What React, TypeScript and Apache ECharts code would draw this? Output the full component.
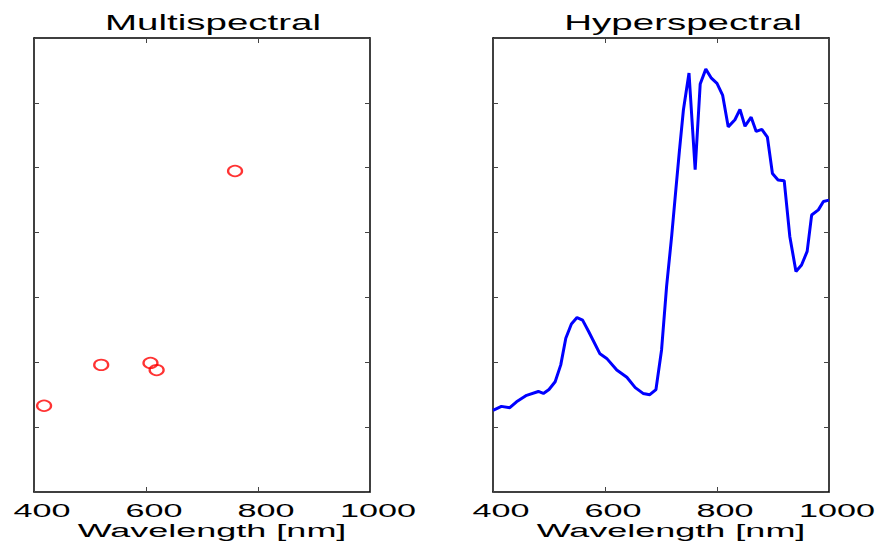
import React, { useEffect, useRef } from 'react';
import * as echarts from 'echarts';

const xTicks = [400, 600, 800, 1000];
const yMin = 0;
const yMax = 0.7;
const yStep = 0.1;
const titles = ['Multispectral', 'Hyperspectral'];
const xAxisName = 'Wavelength [nm]';

const multiWavelengths = [418, 520, 608, 619, 759];
const multiReflectance = [0.133, 0.196, 0.199, 0.188, 0.495];

const hyperWavelengths = [
  400, 415, 430, 442, 460, 481, 490, 500, 511, 521, 530, 540, 550, 560, 571, 591, 603, 621, 639, 654,
  668, 680, 691, 701, 710, 719, 727, 733, 740, 750, 761, 770, 780, 790, 800, 810, 820, 832, 841, 850,
  861, 870, 880, 890, 899, 909, 920, 930, 941, 951, 961, 969, 981, 990, 1000,
];
const hyperReflectance = [
  0.126, 0.132, 0.130, 0.139, 0.149, 0.155, 0.152, 0.158, 0.170, 0.196, 0.237, 0.259, 0.269, 0.265, 0.247, 0.213, 0.206, 0.188, 0.177, 0.161,
  0.152, 0.150, 0.158, 0.219, 0.317, 0.394, 0.471, 0.527, 0.589, 0.646, 0.497, 0.629, 0.652, 0.638, 0.630, 0.612, 0.563, 0.574, 0.590, 0.564,
  0.578, 0.556, 0.559, 0.547, 0.491, 0.481, 0.480, 0.394, 0.340, 0.350, 0.371, 0.427, 0.435, 0.448, 0.450,
];

const FONT = 'Liberation Sans, Arial, sans-serif';

export default function App() {
  const ref = useRef<HTMLDivElement>(null);

  useEffect(() => {
    const chart = echarts.init(ref.current!, null, { renderer: 'svg' });
    const grids = [
      { left: 34, top: 38, width: 336, height: 454 },
      { left: 493, top: 38, width: 336, height: 454 },
    ];
    const axisLine = { show: true, onZero: false, lineStyle: { color: '#000', width: 1.5 } };
    const axisTick = { show: true, inside: true, length: 5, lineStyle: { color: '#444', width: 1 } };

    const xAxes: any[] = [];
    const yAxes: any[] = [];
    grids.forEach((_, i) => {
      ['bottom', 'top'].forEach((pos) => {
        xAxes.push({
          type: 'value', gridIndex: i, position: pos, min: 400, max: 1000, interval: 200,
          axisLine, axisTick, axisLabel: { show: false }, splitLine: { show: false },
        });
      });
      ['left', 'right'].forEach((pos) => {
        yAxes.push({
          type: 'value', gridIndex: i, position: pos, min: yMin, max: yMax, interval: yStep,
          axisLine, axisTick, axisLabel: { show: false }, splitLine: { show: false },
        });
      });
    });

    chart.setOption({
      animation: false,
      backgroundColor: '#fff',
      grid: grids,
      xAxis: xAxes,
      yAxis: yAxes,
      series: [
        {
          type: 'scatter', xAxisIndex: 0, yAxisIndex: 0,
          data: multiWavelengths.map((w, k) => [w, multiReflectance[k]]),
          symbol: 'circle', symbolSize: [14, 10.5],
          itemStyle: { color: 'rgba(0,0,0,0)', borderColor: '#ff0000', borderWidth: 2 },
          silent: true,
        },
        {
          type: 'line', xAxisIndex: 2, yAxisIndex: 2,
          data: hyperWavelengths.map((w, k) => [w, hyperReflectance[k]]),
          showSymbol: false, symbol: 'none',
          lineStyle: { color: '#0000ff', width: 3 },
          clip: true, silent: true,
        },
      ],
    });

    const graphic: any[] = [];
    grids.forEach((g, i) => {
      const cx = g.left + g.width / 2;
      xTicks.forEach((t) => {
        const px = chart.convertToPixel({ xAxisIndex: i * 2 }, t) as number;
        graphic.push({
          type: 'text', x: px + 8, y: 511, scaleX: 1.9,
          style: { text: String(t), font: `18px ${FONT}`, fill: '#000', textAlign: 'center', textVerticalAlign: 'middle' },
        });
      });
      graphic.push({
        type: 'text', x: cx + 10, y: 531, scaleX: 2.0,
        style: { text: xAxisName, font: `18px ${FONT}`, fill: '#000', textAlign: 'center', textVerticalAlign: 'middle' },
      });
      graphic.push({
        type: 'text', x: cx + (i === 0 ? 11 : 22), y: 23, scaleX: 1.75,
        style: { text: titles[i], font: `22px ${FONT}`, fill: '#000', textAlign: 'center', textVerticalAlign: 'middle' },
      });
    });
    chart.setOption({ graphic });

    return () => chart.dispose();
  }, []);

  return (
    <div
      ref={ref}
      style={{ position: 'fixed', left: 0, top: 0, width: 882, height: 549, background: '#fff' }}
    />
  );
}
